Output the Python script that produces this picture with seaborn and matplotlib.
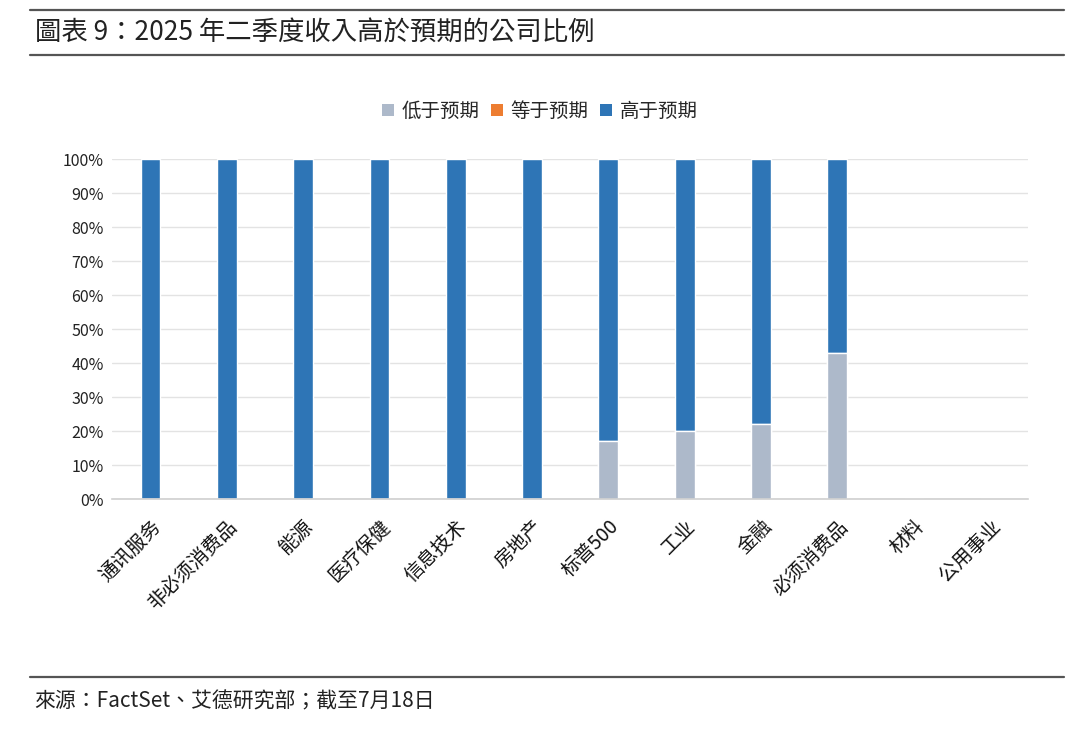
import pandas as pd
import seaborn as sns
import matplotlib.pyplot as plt
from matplotlib.patches import Patch
from matplotlib.lines import Line2D

# Chart data
categories = ['通讯服务', '非必须消费品', '能源', '医疗保健', '信息技术', '房地产',
              '标普500', '工业', '金融', '必须消费品', '材料', '公用事业']
below = [0, 0, 0, 0, 0, 0, 17, 20, 22, 43, 0, 0]
equal = [0, 0, 0, 0, 0, 0, 0, 0, 0, 0, 0, 0]
above = [100, 100, 100, 100, 100, 100, 83, 80, 78, 57, 0, 0]
series_names = ['低于预期', '等于预期', '高于预期']
colors = ['#ADB9CA', '#ED7D31', '#2E75B6']
yticks = [0, 10, 20, 30, 40, 50, 60, 70, 80, 90, 100]

df = pd.DataFrame({'category': categories, 'below': below, 'equal': equal, 'above': above})
df['cum_equal'] = df['below'] + df['equal']
df['cum_above'] = df['cum_equal'] + df['above']

sns.set_style('white')
plt.rcParams['font.family'] = ['Noto Sans CJK SC', 'DejaVu Sans']

fig = plt.figure(figsize=(10.8, 7.33), dpi=100)
ax = fig.add_axes([0.104, 0.319, 0.848, 0.464])

# stacked bars: draw cumulative totals back to front
for col, color in [('cum_above', colors[2]), ('cum_equal', colors[1]), ('below', colors[0])]:
    sns.barplot(data=df, x='category', y=col, color=color, width=0.26, saturation=1,
                edgecolor='white', linewidth=1, ax=ax, zorder=3)

ax.set_ylim(0, 100)
ax.set_xlim(-0.5, len(categories) - 0.5)
ax.set_yticks(yticks)
ax.set_yticklabels([f'{v}%' for v in yticks], fontsize=11.5, color='#222222')
ax.set_xlabel('')
ax.set_ylabel('')
ax.yaxis.grid(True, color='#E3E3E3', linewidth=1, zorder=0)
ax.tick_params(axis='y', length=0, pad=6)
ax.tick_params(axis='x', length=0, pad=12)
plt.setp(ax.get_xticklabels(), rotation=45, ha='right', rotation_mode='anchor',
         fontsize=14, color='#111111')
for s in ['top', 'right', 'left']:
    ax.spines[s].set_visible(False)
ax.spines['bottom'].set_color('#D0D0D0')
ax.spines['bottom'].set_linewidth(1.2)
ax.spines['bottom'].set_zorder(5)

handles = [Patch(facecolor=c, edgecolor='none') for c in colors]
fig.legend(handles, series_names, loc='center', bbox_to_anchor=(0.5, 0.848), ncol=3,
           frameon=False, fontsize=14, handlelength=0.6, handleheight=0.6,
           handletextpad=0.4, columnspacing=0.6)

# header / footer rules and text
for y in [0.986, 0.925, 0.076]:
    fig.add_artist(Line2D([0.028, 0.985], [y, y], color='#555555', linewidth=1.6))
fig.text(0.032, 0.955, '圖表 9：2025 年二季度收入高於預期的公司比例', fontsize=19,
         va='center', ha='left', color='#222222',
         family=['Noto Sans CJK TC', 'DejaVu Sans'])
fig.text(0.032, 0.043, '來源：FactSet、艾德研究部；截至7月18日', fontsize=15,
         va='center', ha='left', color='#222222',
         family=['Noto Sans CJK TC', 'DejaVu Sans'])

fig.savefig('out.png', dpi=100)
